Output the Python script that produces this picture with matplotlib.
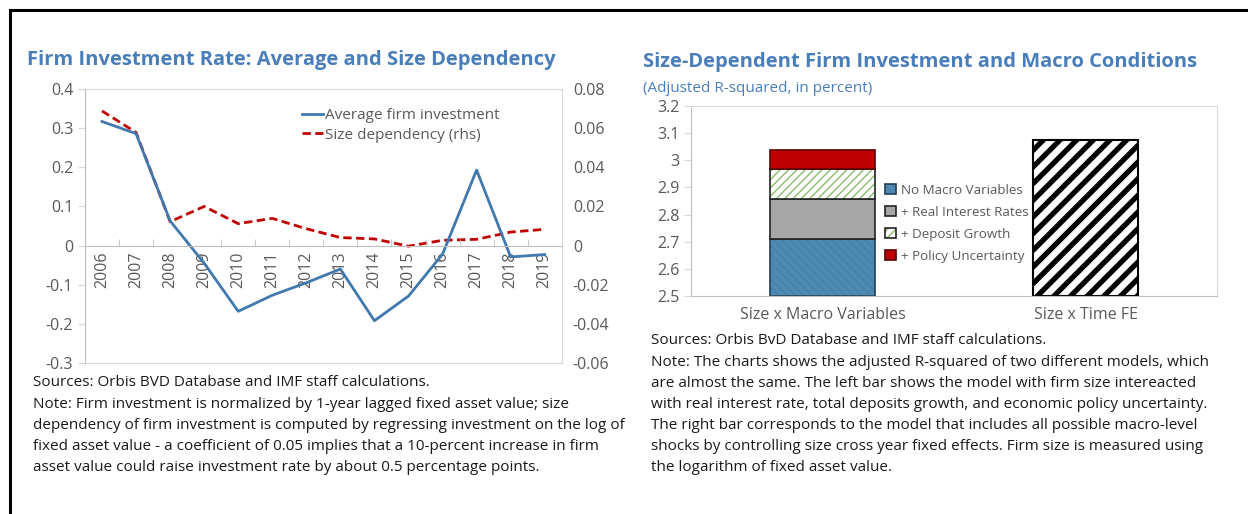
import matplotlib
matplotlib.use("Agg")
import matplotlib.pyplot as plt
import numpy as np

plt.rcParams['font.family'] = ['Open Sans', 'DejaVu Sans']

# ---- data: left chart
years = ['2006', '2007', '2008', '2009', '2010', '2011', '2012',
         '2013', '2014', '2015', '2016', '2017', '2018', '2019']
avg_invest = [0.317, 0.286, 0.063, -0.045, -0.168, -0.127, -0.095,
              -0.060, -0.192, -0.129, -0.022, 0.193, -0.029, -0.023]
size_dep = [0.0688, 0.0578, 0.0122, 0.0200, 0.0112, 0.0139, 0.0086,
            0.0041, 0.0034, -0.0003, 0.0027, 0.0032, 0.0069, 0.0083]
left_ticks = [0.4, 0.3, 0.2, 0.1, 0, -0.1, -0.2, -0.3]
left_labels = ['0.4', '0.3', '0.2', '0.1', '0', '-0.1', '-0.2', '-0.3']
right_ticks = [0.08, 0.06, 0.04, 0.02, 0, -0.02, -0.04, -0.06]
right_labels = ['0.08', '0.06', '0.04', '0.02', '0', '-0.02', '-0.04', '-0.06']

# ---- data: right chart (adjusted R-squared, percent)
models = ['Size x Macro Variables', 'Size x Time FE']
base = 2.5
no_macro = 2.709
real_rates = 2.856
deposit = 2.967
policy = 3.037
time_fe = 3.075
bar_ticks = [2.5, 2.6, 2.7, 2.8, 2.9, 3.0, 3.1, 3.2]
bar_labels = ['2.5', '2.6', '2.7', '2.8', '2.9', '3', '3.1', '3.2']

TITLE = '#4A7EBB'
GREY = '#595959'
FRAME = '#D9D9D9'

fig = plt.figure(figsize=(12.48, 5.14), dpi=100)

# outer frame (top and left black lines)
fig.add_artist(plt.Line2D([0.008, 1.0], [0.981, 0.981], color='black', lw=2.2))
fig.add_artist(plt.Line2D([0.008, 0.008], [0.0, 0.981], color='black', lw=2.2))

# ================= left chart =================
ax = fig.add_axes([0.0681, 0.2938, 0.382, 0.533])
ax2 = ax.twinx()
x = np.arange(len(years))
ax.plot(x, avg_invest, color='#4178AD', lw=2, label='Average firm investment')
ax2.plot(x, size_dep, color='#C00000', lw=2, ls=(0, (3, 1.6)), label='Size dependency (rhs)')
ax.set_xlim(-0.5, len(years) - 0.5)
ax.set_ylim(-0.3, 0.4)
ax2.set_ylim(-0.06, 0.08)
ax.set_yticks(left_ticks)
ax.set_yticklabels(left_labels)
ax2.set_yticks(right_ticks)
ax2.set_yticklabels(right_labels)
ax.tick_params(axis='y', colors=FRAME, labelcolor=GREY, labelsize=11.5, length=5, width=1)
ax2.tick_params(axis='y', colors=FRAME, labelcolor=GREY, labelsize=11.5, length=0, pad=8)

# x axis sits on zero line
ax.spines['bottom'].set_position(('data', 0))
ax.set_xticks(x)
ax.set_xticklabels(years, rotation=90, va='top')
ax.set_xticks(x[:-1] + 0.5, minor=True)
ax.tick_params(axis='x', which='major', length=0, labelsize=11.5, labelcolor=GREY, pad=4)
ax.tick_params(axis='x', which='minor', direction='in', length=5, color='#BFBFBF')
for s in ax.spines.values():
    s.set_color('#BFBFBF')
for s in ax2.spines.values():
    s.set_color(FRAME)
ax.spines['top'].set_visible(False)
ax.spines['right'].set_visible(False)
ax.set_zorder(ax2.get_zorder() + 1)
ax.patch.set_visible(False)

h1, l1 = ax.get_legend_handles_labels()
h2, l2 = ax2.get_legend_handles_labels()
ax.legend(h1 + h2, l1 + l2, loc='upper left', bbox_to_anchor=(0.433, 0.97), frameon=False,
          fontsize=11, handlelength=1.4, handletextpad=0.1, labelspacing=0.3,
          labelcolor=GREY, borderaxespad=0.3)

fig.text(0.0216, 1 - 60 / 514, 'Firm Investment Rate: Average and Size Dependency',
         color=TITLE, fontsize=14.5, fontweight='bold', va='center')

left_notes = [
    'Sources: Orbis BVD Database and IMF staff calculations.',
    'Note: Firm investment is normalized by 1-year lagged fixed asset value; size',
    'dependency of firm investment is computed by regressing investment on the log of',
    'fixed asset value - a coefficient of 0.05 implies that a 10-percent increase in firm',
    'asset value could raise investment rate by about 0.5 percentage points.',
]
for i, line in enumerate(left_notes):
    fig.text(0.0264, 1 - (383 + 21.2 * i) / 514, line, fontsize=11, color='#1A1A1A', va='center')

# ================= right chart =================
bx = fig.add_axes([0.5537, 0.4241, 0.4215, 0.3697])
pos = np.arange(len(models))
w = 0.4
segments = [
    ('No Macro Variables', base, no_macro, '#4D89B0', '#4581A8', '\\\\\\\\', '#1F3F55'),
    ('+ Real Interest Rates', no_macro, real_rates, '#A6A6A6', '#A6A6A6', None, '#222222'),
    ('+ Deposit Growth', real_rates, deposit, 'white', '#8DBB6A', '////', '#222222'),
    ('+ Policy Uncertainty', deposit, policy, '#C00000', '#C00000', None, '#5A0000'),
]
leg_handles = []
leg_labels = []
for label, b0, top, face, hcol, hatch, outline in segments:
    fill = bx.bar(pos[0], top - b0, w, bottom=b0, color=face, edgecolor=hcol, hatch=hatch, lw=0)
    edge = bx.bar(pos[0], top - b0, w, bottom=b0, fill=False, edgecolor=outline, lw=1.2)
    for p in fill:
        if hasattr(p, 'set_hatch_linewidth'):
            p.set_hatch_linewidth(1.0)
    leg_handles.append((fill[0], edge[0]))
    leg_labels.append(label)

# right bar
stripes = bx.bar(pos[1], time_fe - base, w, bottom=base, color='white', edgecolor='black',
                 hatch='//', lw=1.5)
for p in stripes:
    if hasattr(p, 'set_hatch_linewidth'):
        p.set_hatch_linewidth(3.8)

bx.set_xlim(-0.5, 1.5)
bx.set_ylim(2.5, 3.2)
bx.set_yticks(bar_ticks)
bx.set_yticklabels(bar_labels)
bx.set_xticks(pos)
bx.set_xticklabels(models)
bx.tick_params(axis='y', colors=FRAME, labelcolor=GREY, labelsize=11.5, length=5)
bx.tick_params(axis='x', length=0, labelsize=11.5, labelcolor=GREY, pad=8)
for s in bx.spines.values():
    s.set_color(FRAME)
bx.spines['left'].set_color('#BFBFBF')
bx.spines['bottom'].set_color('#BFBFBF')

bx.legend(leg_handles, leg_labels, loc='center left', bbox_to_anchor=(0.346, 0.382),
          frameon=False, fontsize=9.6, handlelength=0.8, handleheight=0.8,
          handletextpad=0.4, labelspacing=0.68, labelcolor=GREY)

fig.text(0.5152, 1 - 62 / 514, 'Size-Dependent Firm Investment and Macro Conditions',
         color=TITLE, fontsize=14.5, fontweight='bold', va='center')
fig.text(0.5152, 1 - 88 / 514, '(Adjusted R-squared, in percent)', color=TITLE, fontsize=11,
         va='center')

right_notes = [
    'Sources: Orbis BvD Database and IMF staff calculations.',
    'Note: The charts shows the adjusted R-squared of two different models, which',
    'are almost the same. The left bar shows the model with firm size intereacted',
    'with real interest rate, total deposits growth, and economic policy uncertainty.',
    'The right bar corresponds to the model that includes all possible macro-level',
    'shocks by controlling size cross year fixed effects. Firm size is measured using',
    'the logarithm of fixed asset value.',
]
for i, line in enumerate(right_notes):
    fig.text(0.5216, 1 - (341 + 21.1 * i) / 514, line, fontsize=11, color='#1A1A1A', va='center')

fig.savefig('out.png', dpi=100)
